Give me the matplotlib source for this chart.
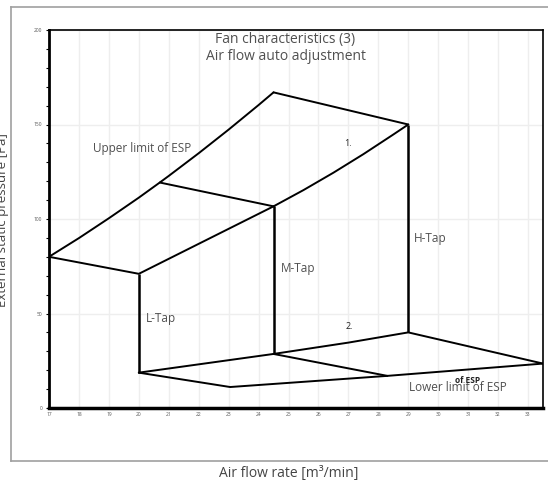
import matplotlib
matplotlib.use("Agg")
import matplotlib.pyplot as plt
from matplotlib.lines import Line2D

plt.rcParams['font.family'] = ['Open Sans', 'DejaVu Sans']

# upper limit of ESP
upper_x = [17, 18, 19, 20, 20.7, 21, 22, 23, 24, 24.5]
upper_y = [80, 89.9, 100.4, 111.3, 119.3, 122.8, 134.8, 147.3, 160.3, 167]
# top edge to H-Tap point
top_x = [24.5, 29]
top_y = [167, 150]
# H-Tap curve (1.)
h_x = [24.5, 25.5, 26.5, 27.5, 28.5, 29]
h_y = [106.7, 115.3, 124.5, 134.3, 144.7, 150]
# M-Tap curve start from L point
m_x = [17, 20, 24.5]
m_y = [80, 71, 106.7]
# joining line upper limit -> M point
join_x = [20.7, 24.5]
join_y = [119.3, 106.7]
# verticals (taps)
tap_x = [20, 24.5, 29]
tap_top = [71, 106.7, 150]
tap_bot = [18.7, 28.6, 40]
# lower curve (2.)
low2_x = [20, 24.5, 27, 29, 33.5]
low2_y = [18.7, 28.6, 34.6, 40, 23.5]
# lower limit of ESP
lim_x = [20, 23.05, 28.3, 33.5]
lim_y = [18.7, 11.1, 17.0, 23.5]
# M bottom to lower limit
mb_x = [24.5, 28.3]
mb_y = [28.6, 17.0]

x_ticks = list(range(17, 34))
y_ticks = [0, 50, 100, 150, 200]

fig = plt.figure(figsize=(5.48, 4.84), dpi=100)
ax = fig.add_axes([49/548, 1 - 408/484, 494/548, 378/484])

lk = dict(color='black', lw=1.4, solid_capstyle='round', solid_joinstyle='round')
ax.plot(upper_x, upper_y, **lk)
ax.plot(top_x, top_y, **lk)
ax.plot(h_x, h_y, **lk)
ax.plot(m_x, m_y, **lk)
ax.plot(join_x, join_y, **lk)
ax.vlines(tap_x, tap_bot, tap_top, color='black', lw=1.8)
ax.plot(low2_x, low2_y, **lk)
ax.plot(lim_x, lim_y, **lk)
ax.plot(mb_x, mb_y, **lk)

tc = '#505050'
ax.text(24.9, 190.5, "Fan characteristics (3)\nAir flow auto adjustment", ha='center', va='center',
        fontsize=10, color=tc, linespacing=1.1)
ax.text(18.47, 137.4, "Upper limit of ESP", ha='left', va='center', fontsize=8.5, color=tc)
ax.text(29.2, 89.7, "H-Tap", ha='left', va='center', fontsize=8.5, color=tc)
ax.text(24.73, 73.9, "M-Tap", ha='left', va='center', fontsize=8.5, color=tc)
ax.text(20.23, 47.4, "L-Tap", ha='left', va='center', fontsize=8.5, color=tc)
ax.text(27.0, 140, "1.", ha='center', va='center', fontsize=6.5, color='#222222')
ax.text(27.03, 43.2, "2.", ha='center', va='center', fontsize=6.5, color='#222222')
ax.text(29.03, 10.9, "Lower limit of ESP", ha='left', va='center', fontsize=8.5, color=tc)
ax.text(30.97, 14.4, "of ESP", ha='center', va='center', fontsize=6, color='#222222', fontweight='bold')

ax.set_xlim(17, 33.5)
ax.set_ylim(0, 200)
ax.set_xticks(x_ticks)
ax.set_yticks(y_ticks)
ax.set_yticks(range(0, 201, 10), minor=True)
ax.tick_params(axis='both', labelsize=3.5, labelcolor='#555555', length=2, width=0.8, pad=3)
ax.tick_params(axis='x', length=0)
ax.tick_params(axis='y', which='minor', length=2, width=0.8)
ax.grid(True, which='major', color='#eeeeee', lw=1)
ax.set_axisbelow(True)
ax.spines['left'].set_linewidth(2)
ax.spines['bottom'].set_linewidth(2.5)
ax.spines['top'].set_linewidth(1.2)
ax.spines['right'].set_linewidth(1.2)

# outer frame
fc = '#a0a0a0'
fig.add_artist(Line2D([11/548, 1], [1 - 7/484, 1 - 7/484], color=fc, lw=1.2))
fig.add_artist(Line2D([11/548, 1], [1 - 461/484, 1 - 461/484], color=fc, lw=1.2))
fig.add_artist(Line2D([11/548, 11/548], [1 - 7/484, 1 - 461/484], color=fc, lw=1.2))

fig.text(289/548, 1 - 473/484, "Air flow rate [m³/min]", ha='center', va='center', fontsize=10, color='#444444')
fig.text(3/548, 1 - 220/484, "External static pressure [Pa]", ha='center', va='center', rotation=90,
         fontsize=9.5, color='#444444')

fig.savefig("out.png", dpi=100)
